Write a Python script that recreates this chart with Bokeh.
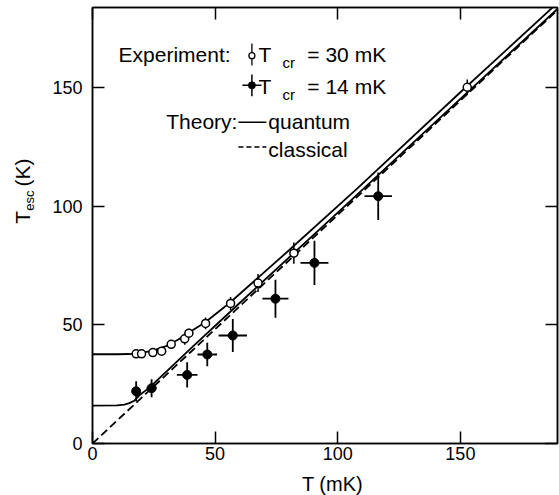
import numpy as np
from bokeh.plotting import figure
from bokeh.layouts import row, column
from bokeh.models import Label, LinearAxis, FixedTicker, Range1d
from bokeh.embed import file_html
from bokeh.resources import INLINE

# ---------------- data ----------------
# Experiment, T_cr = 30 mK (open circles)
T_open = [17.8, 20.0, 24.6, 28.2, 32.1, 37.6, 39.3, 46.1, 56.3, 67.5, 82.1, 152.8]
Tesc_open = [37.8, 37.8, 38.3, 38.9, 41.8, 44.1, 46.5, 50.6, 59.0, 67.6, 80.2, 150.1]
yerr_open = [1.3, 1.3, 1.5, 1.5, 1.8, 2.5, 1.9, 2.5, 2.7, 3.8, 4.5, 3.3]

# Experiment, T_cr = 14 mK (filled circles)
T_fill = [17.8, 24.1, 38.6, 46.8, 57.2, 74.6, 90.5, 116.5]
Tesc_fill = [22.0, 23.3, 28.9, 37.5, 45.5, 61.0, 76.1, 104.2]
xerr_fill = [1.5, 2.0, 4.2, 4.0, 5.8, 5.3, 5.7, 5.6]
yerr_fill = [4.2, 3.8, 5.3, 5.0, 7.0, 8.0, 9.3, 10.0]

# Theory, quantum (T_cr = 30 mK)
q30_T = [0, 10, 15, 20, 25, 30, 35, 40, 46, 56, 68, 80, 108, 150, 190]
q30_Tesc = [37.6, 37.6, 37.7, 38.2, 39.2, 41.0, 43.8, 47.2, 51.1, 59.3, 70.3, 81.3, 107.5, 148.0, 186.0]

# Theory, quantum (T_cr = 14 mK)
q14_T = [0, 10, 13, 15, 17, 19, 22, 25, 30, 40, 60, 100, 150, 190]
q14_Tesc = [16.0, 16.1, 16.4, 17.0, 18.0, 20.2, 22.6, 25.3, 30.2, 40.0, 59.2, 97.3, 145.2, 183.5]

# Theory, classical
cl_T = [0, 190]
cl_Tesc = [0, 183]

ticks = [0, 50, 100, 150]

FONT = "Liberation Sans"

# ---------------- main figure ----------------
p = figure(width=519, height=470,
           x_range=Range1d(0, 189.6), y_range=Range1d(0, 183.7),
           output_backend="svg", toolbar_location=None,
           min_border_left=52, min_border_right=2,
           min_border_top=7, min_border_bottom=27)
p.grid.visible = False
p.outline_line_color = "black"
p.outline_line_width = 1.5
p.background_fill_color = "white"
p.border_fill_color = "white"

p.add_layout(LinearAxis(), "above")
p.add_layout(LinearAxis(), "right")

for ax in list(p.xaxis) + list(p.yaxis):
    ax.ticker = FixedTicker(ticks=ticks)
    ax.major_tick_in = 12
    ax.major_tick_out = 0
    ax.minor_tick_line_color = None
    ax.axis_line_color = "black"
    ax.axis_line_width = 1.5
    ax.major_tick_line_color = "black"
    ax.major_tick_line_width = 1.5
    ax.major_label_text_font = FONT
    ax.major_label_text_font_size = "18px"
    ax.major_label_text_color = "black"

p.below[0].major_label_standoff = 3
p.left[0].major_label_standoff = 10
for ax in (p.above[0], p.right[0]):
    ax.major_label_text_font_size = "0px"
    ax.major_label_standoff = 0
    ax.major_label_text_color = None

# ---------------- theory curves ----------------
p.line(cl_T, cl_Tesc, line_color="black", line_width=1.8, line_dash="8 4")
p.line(q30_T, q30_Tesc, line_color="black", line_width=1.8)
p.line(q14_T, q14_Tesc, line_color="black", line_width=1.8)

# ---------------- error bars ----------------
To = np.array(T_open); Yo = np.array(Tesc_open); Eo = np.array(yerr_open)
p.segment(To, Yo - Eo, To, Yo + Eo, line_color="black", line_width=1.5)

Tf = np.array(T_fill); Yf = np.array(Tesc_fill)
Xe = np.array(xerr_fill); Ye = np.array(yerr_fill)
p.segment(Tf, Yf - Ye, Tf, Yf + Ye, line_color="black", line_width=1.8)
p.segment(Tf - Xe, Yf, Tf + Xe, Yf, line_color="black", line_width=1.8)

# ---------------- markers ----------------
p.scatter(T_open, Tesc_open, marker="circle", size=8, fill_color="white",
          line_color="black", line_width=1.5)
p.scatter(T_fill, Tesc_fill, marker="circle", size=9, fill_color="black",
          line_color="black")


def lab(fig, x, y, text, size="21px", align="left", angle=0):
    fig.add_layout(Label(x=x, y=y, text=text, text_font=FONT,
                         text_font_size=size, text_color="black",
                         text_align=align, text_baseline="middle",
                         angle=angle, angle_units="deg"))


# ---------------- legend (inside the frame) ----------------
sx = 65.0
# row 1: open symbol
p.segment([sx], [163.9 - 4.6], [sx], [163.9 + 4.6], line_color="black", line_width=1.3)
p.scatter([sx], [163.4], marker="circle", size=6, fill_color="white",
          line_color="black", line_width=1.3)
lab(p, 56.3, 164.1, "Experiment:", align="right")
lab(p, 67.7, 164.1, "T")
lab(p, 77.5, 160.6, "cr", size="15px")
lab(p, 87.6, 164.1, "=  30  mK")
# row 2: filled symbol
p.segment([sx], [150.9 - 4.6], [sx], [150.9 + 4.6], line_color="black", line_width=1.5)
p.segment([sx - 3.9], [150.9], [sx + 3.9], [150.9], line_color="black", line_width=1.5)
p.scatter([sx], [150.9], marker="circle", size=7, fill_color="black", line_color="black")
lab(p, 67.7, 150.6, "T")
lab(p, 77.5, 147.2, "cr", size="15px")
lab(p, 87.6, 150.6, "=  14  mK")
# rows 3/4: theory
lab(p, 59.1, 135.8, "Theory:", align="right")
p.line([59.5, 70.9], [135.4, 135.4], line_color="black", line_width=1.5)
lab(p, 71.7, 135.8, "quantum")
p.line([59.5, 70.9], [124.9, 124.9], line_color="black", line_width=1.5, line_dash="5 3")
lab(p, 71.7, 123.7, "classical")

# ---------------- y axis title (own strip, pixel coordinates) ----------------
ylab = figure(width=40, height=470, x_range=Range1d(0, 40), y_range=Range1d(0, 470),
              output_backend="svg", toolbar_location=None, min_border=0)
ylab.axis.visible = False
ylab.grid.visible = False
ylab.outline_line_color = None
lab(ylab, 21.7, 237, "T", angle=90)
lab(ylab, 28.5, 251, "esc", size="13px", angle=90)
lab(ylab, 21.7, 277, "(K)", angle=90)

# ---------------- x axis title (own strip, pixel coordinates) ----------------
xlab = figure(width=559, height=25, x_range=Range1d(0, 559), y_range=Range1d(0, 25),
              output_backend="svg", toolbar_location=None, min_border=0)
xlab.axis.visible = False
xlab.grid.visible = False
xlab.outline_line_color = None
lab(xlab, 332, 12, "T (mK)", size="20px", align="center")

layout = column(row(ylab, p, spacing=0), xlab, spacing=0)

open("out.html", "w").write(file_html(layout, INLINE))
